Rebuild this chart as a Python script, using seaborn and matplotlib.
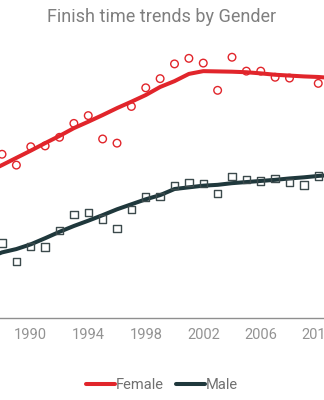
import numpy as np
import pandas as pd
import matplotlib
matplotlib.use("Agg")
import matplotlib.pyplot as plt
import seaborn as sns

# ---- data (average finish time, minutes; axis values not shown in the chart) ----
years = list(range(1988, 2011))
female_points = [258.9, 255.0, 261.6, 261.9, 265.0, 270.0, 272.8, 264.4, 262.9, 276.1,
                 282.8, 286.1, 291.4, 293.4, 291.7, 281.9, 293.8, 288.8, 288.8, 286.6,
                 286.3, np.nan, 284.4]
male_points = [227.0, 220.4, 225.8, 225.5, 231.5, 237.2, 237.9, 235.6, 232.3, 239.0,
               243.5, 243.8, 247.7, 248.7, 248.3, 244.9, 250.8, 249.9, 249.3, 250.1,
               248.7, 247.9, 251.1]

trend_years = list(range(1987, 2012))
female_trend = [252.5, 255.0, 257.6, 260.2, 262.9, 265.5, 268.3, 270.6, 273.0, 275.5,
                277.8, 280.2, 283.1, 285.2, 287.8, 288.8, 288.7, 288.6, 288.4, 288.0,
                287.5, 287.2, 286.9, 286.7, 286.3]
male_trend = [221.6, 223.6, 224.8, 226.5, 228.7, 231.0, 233.1, 235.0, 237.0, 239.1,
              240.9, 242.7, 244.2, 246.4, 247.0, 247.6, 247.9, 248.5, 248.9, 249.3,
              249.7, 250.2, 250.6, 251.1, 251.5]

tick_years = [1990, 1994, 1998, 2002, 2006, 2010]

RED = "#e1252b"
DARK = "#1f383c"
SQ_EDGE = "#3c4a4c"

sns.set_theme(style="white")
plt.rcParams['font.family'] = ['Roboto', 'DejaVu Sans']

pts = pd.DataFrame({
    "year": years * 2,
    "time": female_points + male_points,
    "gender": ["Female"] * len(years) + ["Male"] * len(years),
})
trend = pd.DataFrame({
    "year": trend_years * 2,
    "time": female_trend + male_trend,
    "gender": ["Female"] * len(trend_years) + ["Male"] * len(trend_years),
})

fig = plt.figure(figsize=(3.24, 4.0), dpi=100)
ax = fig.add_axes([0.0, 0.205, 1.0, 0.695])

sns.lineplot(data=trend, x="year", y="time", hue="gender",
             palette={"Female": RED, "Male": DARK}, linewidth=2.9,
             ax=ax, zorder=2, legend=True)

fem = pts[pts.gender == "Female"]
mal = pts[pts.gender == "Male"]
sns.scatterplot(data=fem, x="year", y="time", marker="o", s=30,
                facecolor="none", edgecolor=RED, linewidth=1.0, ax=ax,
                zorder=3, legend=False)
sns.scatterplot(data=mal, x="year", y="time", marker="s", s=28,
                facecolor="none", edgecolor=SQ_EDGE, linewidth=1.0, ax=ax,
                zorder=3, legend=False)

ax.set_xticks(tick_years)
ax.set_xticklabels([str(y) for y in tick_years])
ax.set_xlim(1987.86, 2010.4)
ax.set_ylim(200, 300)
ax.set_yticks([])
ax.set_xlabel("")
ax.set_ylabel("")
ax.tick_params(axis="x", length=0, pad=7, labelsize=10.5, labelcolor="#939393")
for side in ["top", "left", "right"]:
    ax.spines[side].set_visible(False)
ax.spines["bottom"].set_color("#8f8f8f")
ax.spines["bottom"].set_linewidth(1.0)

ax.get_legend().remove()
handles, labels = ax.get_legend_handles_labels()
hl = {l: h for h, l in zip(handles, labels)}
leg = fig.legend([hl["Female"], hl["Male"]], ["Female", "Male"],
                 loc="center", bbox_to_anchor=(0.5, 0.037), ncol=2, frameon=False,
                 fontsize=10.5, handlelength=2.0, handletextpad=0.05,
                 columnspacing=0.8, labelcolor="#707070")

fig.text(0.5, 0.957, "Finish time trends by Gender", ha="center", va="center",
         fontsize=13, color="#7f7f7f")

fig.savefig("out.png", dpi=100)
